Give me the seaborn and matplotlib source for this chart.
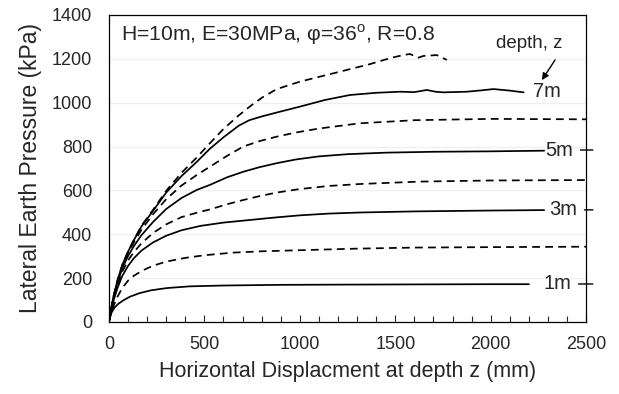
import matplotlib
matplotlib.use("Agg")
import matplotlib.pyplot as plt
from matplotlib.ticker import MultipleLocator
import seaborn as sns
import pandas as pd

sns.set_style("ticks")
plt.rcParams['font.family'] = ['Liberation Sans', 'DejaVu Sans']
plt.rcParams['mathtext.fontset'] = 'custom'
plt.rcParams['mathtext.rm'] = 'Liberation Sans'

# ---- data ----
depths = ["1m", "2m", "3m", "4m", "5m", "6m", "7m", "8m"]

x_1m = [0, 5, 15, 30, 50, 75, 110, 160, 220, 300, 420, 600, 900, 1200, 1600, 2000, 2200]
y_1m = [0, 22, 45, 66, 83, 98, 115, 131, 144, 154, 162, 166, 169, 170, 171, 172, 172]

x_2m = [0, 10, 25, 45, 70, 100, 130, 170, 230, 300, 400, 500, 650, 800, 1000, 1290, 1600, 2000, 2500]
y_2m = [0, 35, 75, 115, 155, 188, 210, 232, 256, 275, 292, 304, 316, 322, 327, 334, 339, 341, 343]

x_3m = [0, 10, 25, 45, 70, 100, 130, 170, 230, 300, 380, 480, 600, 740, 880, 1000, 1150, 1315, 1600, 2000, 2280]
y_3m = [0, 45, 100, 155, 210, 255, 290, 325, 362, 393, 418, 438, 453, 465, 477, 486, 494, 499, 504, 508, 510]

x_4m = [0, 10, 25, 45, 70, 100, 130, 170, 230, 300, 380, 460, 529, 620, 704, 790, 879, 1000, 1150, 1315, 1630, 2000, 2500]
y_4m = [0, 48, 110, 170, 230, 280, 318, 358, 405, 445, 478, 498, 513, 537, 556, 574, 590, 606, 620, 629, 640, 645, 647]

x_5m = [0, 10, 25, 45, 70, 100, 130, 170, 230, 300, 380, 460, 529, 620, 704, 790, 879, 980, 1100, 1250, 1450, 1700, 2000, 2280]
y_5m = [0, 50, 115, 180, 245, 300, 345, 395, 455, 515, 565, 602, 625, 660, 685, 706, 724, 741, 755, 765, 772, 776, 778, 781]

x_6m = [0, 10, 25, 45, 70, 100, 130, 170, 230, 300, 380, 460, 529, 620, 704, 790, 879, 980, 1100, 1315, 1600, 2000, 2500]
y_6m = [0, 50, 118, 185, 255, 315, 362, 420, 490, 560, 622, 670, 708, 758, 800, 825, 845, 864, 882, 906, 920, 926, 924]

x_7m = [0, 10, 25, 45, 70, 100, 130, 170, 230, 300, 380, 460, 529, 600, 680, 735, 800, 879, 1001,
        1130, 1263, 1400, 1525, 1600, 1665, 1710, 1752, 1875, 1950, 2014, 2100, 2172]
y_7m = [0, 52, 120, 190, 260, 320, 372, 435, 505, 590, 665, 730, 790, 842, 895, 920, 937, 955, 982,
        1012, 1035, 1045, 1050, 1048, 1058, 1050, 1047, 1050, 1056, 1062, 1055, 1047]

x_8m = [0, 10, 25, 45, 70, 100, 130, 170, 230, 300, 380, 460, 529, 600, 680, 739, 800, 879, 1001,
        1176, 1368, 1480, 1542, 1577, 1620, 1647, 1717, 1770]
y_8m = [0, 52, 120, 190, 260, 320, 373, 438, 510, 598, 680, 750, 815, 880, 942, 983, 1022, 1062, 1096,
        1134, 1176, 1205, 1217, 1222, 1205, 1213, 1217, 1195]

xs = [x_1m, x_2m, x_3m, x_4m, x_5m, x_6m, x_7m, x_8m]
ys = [y_1m, y_2m, y_3m, y_4m, y_5m, y_6m, y_7m, y_8m]

label_texts = ["1m", "3m", "5m", "7m"]
label_x = [2275, 2305, 2285, 2222]
label_y = [173, 511, 784, 1049]
leader = [True, True, True, False]

title_text = r"H=10m, E=30MPa, φ=36$^{\mathregular{o}}$, R=0.8"

frames = []
for d, xv, yv in zip(depths, xs, ys):
    frames.append(pd.DataFrame({"disp": xv, "pressure": yv, "depth": d}))
df = pd.concat(frames, ignore_index=True)

fig = plt.figure(figsize=(6.19, 3.94), dpi=100)
ax = fig.add_axes([0.176, 0.183, 0.771, 0.779])

for i, d in enumerate(depths):
    sub = df[df["depth"] == d]
    dashed = (i % 2 == 1)
    sns.lineplot(data=sub, x="disp", y="pressure", ax=ax, color="black",
                 linewidth=1.25, sort=False, estimator=None,
                 linestyle=(0, (4.5, 3)) if dashed else "-")

ax.set_xlim(0, 2500)
ax.set_ylim(0, 1400)
ax.xaxis.set_major_locator(MultipleLocator(500))
ax.xaxis.set_minor_locator(MultipleLocator(100))
ax.yaxis.set_major_locator(MultipleLocator(200))
ax.tick_params(axis="x", which="major", direction="in", length=5, width=0.8,
               labelsize=13, pad=10, top=False)
ax.tick_params(axis="x", which="minor", direction="in", length=4, width=0.8, top=False)
ax.tick_params(axis="y", which="both", length=0, labelsize=13, pad=12)
ax.grid(axis="y", color="#efefef", linewidth=0.9)
ax.set_axisbelow(True)
for s in ax.spines.values():
    s.set_visible(True)
    s.set_color("black")
    s.set_linewidth(0.9)

ax.set_xlabel("Horizontal Displacment at depth z (mm)", fontsize=15.5, labelpad=6)
ax.set_ylabel("Lateral Earth Pressure (kPa)", fontsize=16.5, labelpad=7)

ax.text(0.025, 0.935, title_text, transform=ax.transAxes, fontsize=15.2,
        ha="left", va="center")

for t, lx, ly, ld in zip(label_texts, label_x, label_y, leader):
    if ld:
        ax.annotate(t, xy=(2535, ly), xytext=(lx, ly), fontsize=14.5, va="center",
                    ha="left", annotation_clip=False,
                    arrowprops=dict(arrowstyle="-", color="black", lw=1.0,
                                    shrinkA=3, shrinkB=0, relpos=(1, 0.5)))
    else:
        ax.text(lx, ly, t, fontsize=14.5, va="center", ha="left")

ax.text(2030, 1272, "depth, z", fontsize=13.5, va="center", ha="left")
ax.annotate("", xy=(2268, 1103), xytext=(2337, 1195),
            arrowprops=dict(arrowstyle="-|>", color="black", lw=1.0,
                            mutation_scale=10, shrinkA=0, shrinkB=0))

fig.savefig("out.png", dpi=100)
